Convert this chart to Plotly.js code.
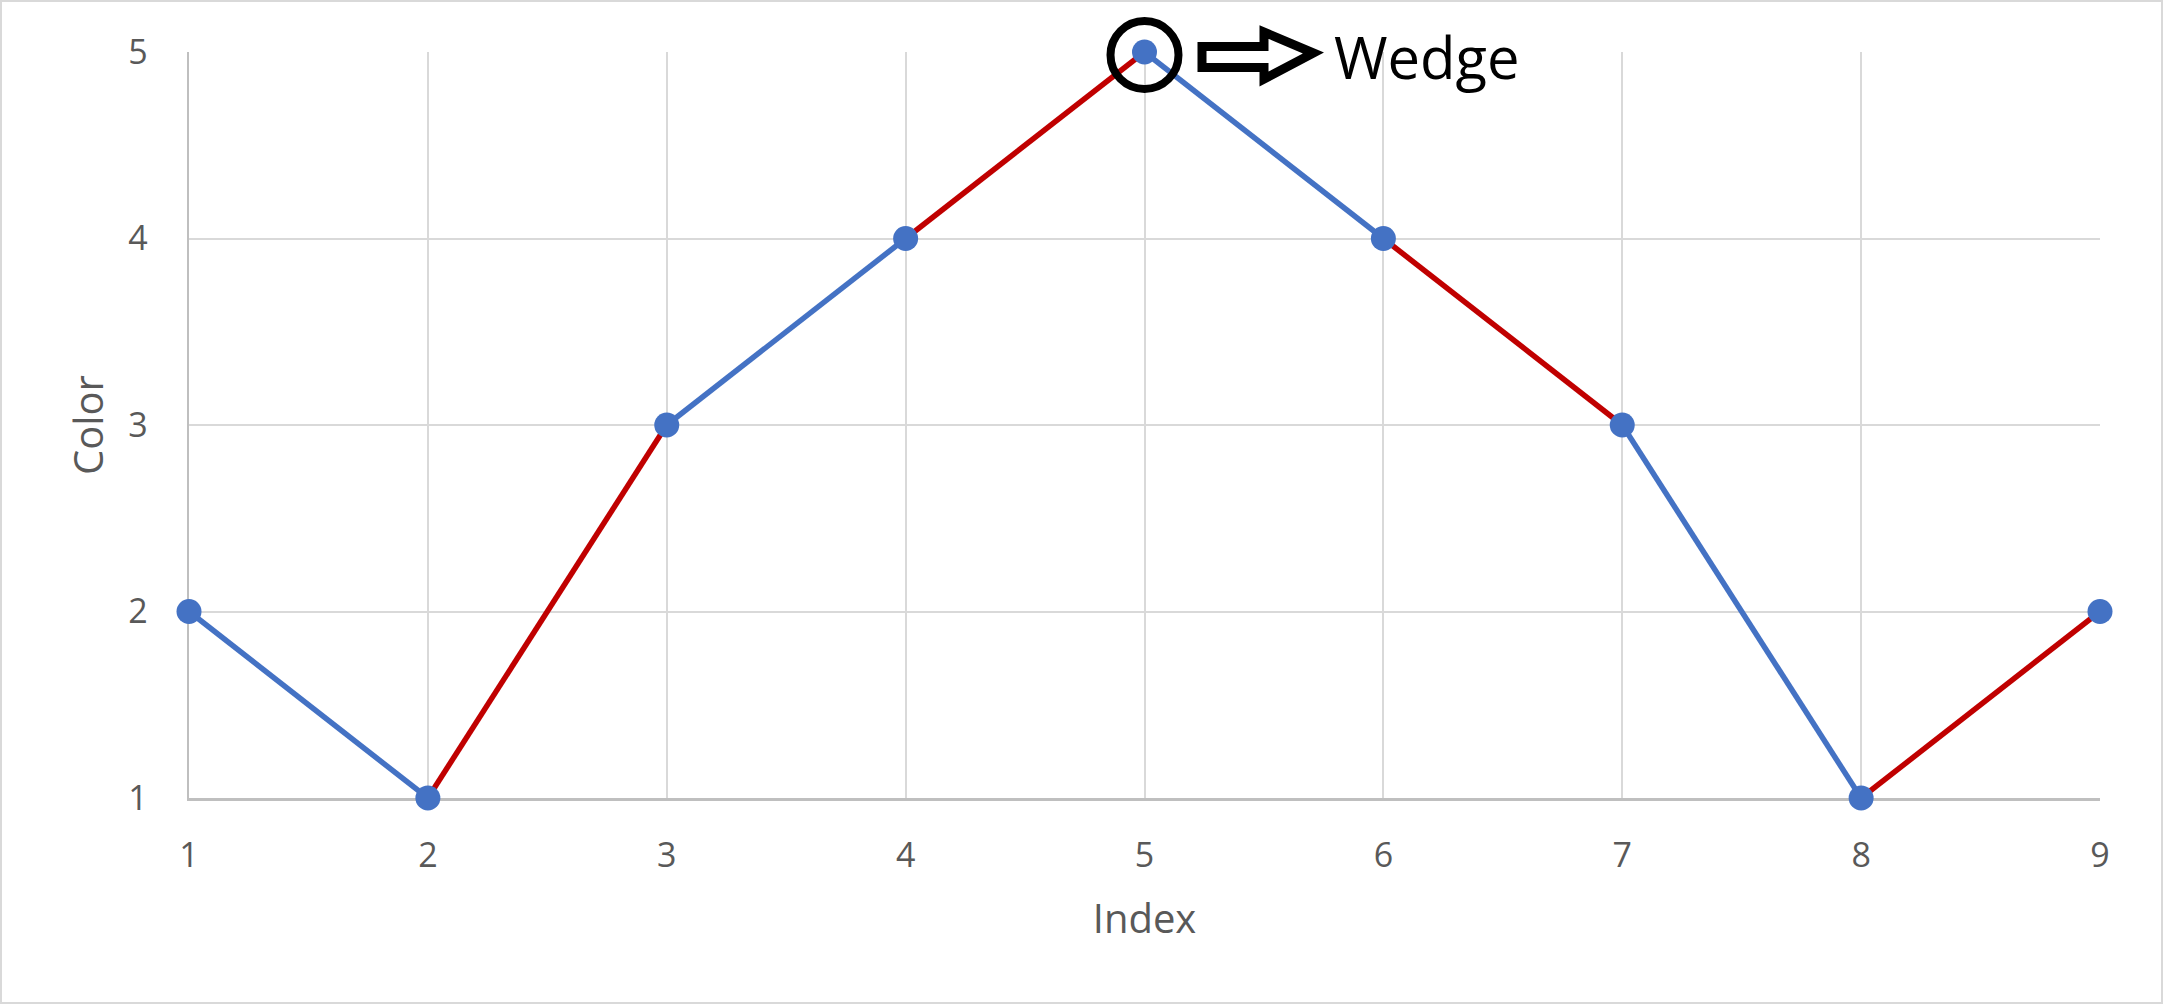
<!DOCTYPE html>
<html>
<head>
<meta charset="utf-8">
<script src="https://cdn.plot.ly/plotly-3.0.1.min.js"></script>
<style>
html, body { margin: 0; padding: 0; background: #fff; }
#chart { width: 2159px; height: 1000px; border: 2px solid #d9d9d9; }
</style>
</head>
<body>
<div id="chart"></div>
<script>
// ---- data ----
const indexValues = [1, 2, 3, 4, 5, 6, 7, 8, 9];
const colorValues = [2, 1, 3, 4, 5, 4, 3, 1, 2];
const segmentColors = ['#4472C4', '#C00000', '#4472C4', '#C00000', '#4472C4', '#C00000', '#4472C4', '#C00000'];
const xTickLabels = ['1', '2', '3', '4', '5', '6', '7', '8', '9'];
const yTickLabels = ['1', '2', '3', '4', '5'];
const yTickValues = [1, 2, 3, 4, 5];
const annotationText = 'Wedge';
const highlightIndex = 4;

const FONT = 'Open Sans, Noto Sans, sans-serif';
const xRange = [1, 9];
const yRange = [1, 5];

const traces = [];
for (let i = 0; i < indexValues.length - 1; i++) {
  traces.push({
    type: 'scatter', mode: 'lines',
    x: [indexValues[i], indexValues[i + 1]],
    y: [colorValues[i], colorValues[i + 1]],
    line: { color: segmentColors[i], width: 5.5 },
    cliponaxis: false,
    hoverinfo: 'skip', showlegend: false
  });
}
traces.push({
  type: 'scatter', mode: 'markers',
  x: indexValues, y: colorValues,
  marker: { color: '#4472C4', size: 25 },
  cliponaxis: false,
  showlegend: false
});

const hx = indexValues[highlightIndex], hy = colorValues[highlightIndex];
const px = (hx - xRange[0]) / (xRange[1] - xRange[0]);
const py = (hy - yRange[0]) / (yRange[1] - yRange[0]);

const layout = {
  width: 2159, height: 1000,
  margin: { l: 187, r: 61, t: 50, b: 204, pad: 0 },
  paper_bgcolor: '#ffffff', plot_bgcolor: '#ffffff',
  font: { family: FONT, color: '#595959' },
  showlegend: false,
  xaxis: {
    range: xRange, tickvals: indexValues, ticktext: xTickLabels,
    showgrid: true, gridcolor: '#d9d9d9', gridwidth: 2,
    showline: true, linecolor: '#bfbfbf', linewidth: 2.5,
    zeroline: false, ticks: '', ticklabelstandoff: 26,
    layer: 'below traces',
    tickfont: { family: FONT, size: 34, color: '#595959' },
    title: { text: 'Index', font: { family: FONT, size: 40, color: '#595959' }, standoff: 29 },
    fixedrange: true
  },
  yaxis: {
    range: yRange, tickvals: yTickValues, ticktext: yTickLabels,
    showgrid: true, gridcolor: '#d9d9d9', gridwidth: 2,
    showline: true, linecolor: '#bfbfbf', linewidth: 2.5,
    zeroline: false, ticks: '', ticklabelstandoff: 32,
    layer: 'below traces',
    tickfont: { family: FONT, size: 34, color: '#595959' },
    title: { text: 'Color', font: { family: FONT, size: 40, color: '#595959' }, standoff: 12 },
    fixedrange: true
  },
  shapes: [
    {
      type: 'circle', xref: 'paper', yref: 'paper',
      xsizemode: 'pixel', ysizemode: 'pixel',
      xanchor: px, yanchor: py,
      x0: -34, x1: 34, y0: -37, y1: 31,
      line: { color: '#000000', width: 8 }, fillcolor: 'rgba(0,0,0,0)',
      layer: 'above'
    },
    {
      type: 'path', xref: 'paper', yref: 'paper',
      xsizemode: 'pixel', ysizemode: 'pixel',
      xanchor: px, yanchor: py,
      path: 'M 57.5,5.5 L 119.5,5.5 L 119.5,20 L 169,-1 L 119.5,-27 L 119.5,-15.5 L 57.5,-15.5 Z',
      line: { color: '#000000', width: 9 }, fillcolor: '#ffffff',
      layer: 'above'
    }
  ],
  annotations: [
    {
      text: annotationText, xref: 'paper', yref: 'paper', x: px, y: py,
      xanchor: 'left', yanchor: 'middle', xshift: 187, yshift: -4,
      showarrow: false,
      font: { family: FONT, size: 58, color: '#000000' }
    }
  ]
};

Plotly.newPlot('chart', traces, layout, { displayModeBar: false, staticPlot: true });
</script>
</body>
</html>
